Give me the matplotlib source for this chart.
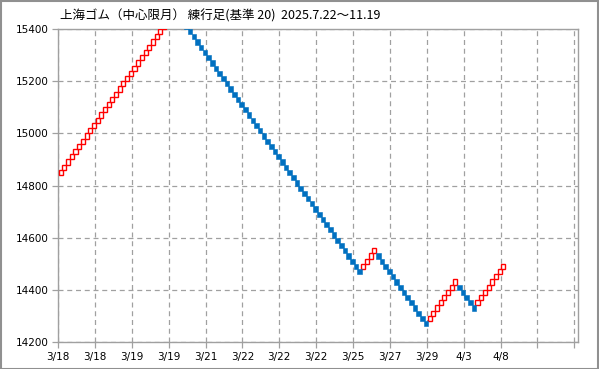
import matplotlib
matplotlib.use("Agg")
import matplotlib.pyplot as plt
from matplotlib.patches import Rectangle

# ---- data ----
title = "上海ゴム（中心限月） 練行足(基準 20)  2025.7.22〜11.19"
box_size = 20
# renko turning levels: start, then extreme brick edge of each run
pivots = [14840, 15480, 14460, 14560, 14260, 14440, 14320, 14500]
tick_labels = ["3/18", "3/18", "3/19", "3/19", "3/21", "3/22", "3/22",
               "3/22", "3/25", "3/27", "3/29", "4/3", "4/8", "", ""]
y_ticks = [14200, 14400, 14600, 14800, 15000, 15200, 15400]

# build bricks (bottom, direction) from pivots
bricks = []
for k in range(1, len(pivots)):
    target = pivots[k]
    if target > pivots[k - 1]:
        b = pivots[k - 1] if k == 1 else pivots[k - 1] + box_size
        while b + box_size <= target:
            bricks.append((b, 1))
            b += box_size
    else:
        t = pivots[k - 1] - box_size  # top of first down brick
        while t - box_size >= target:
            bricks.append((t - box_size, -1))
            t -= box_size

W, H = 599, 369
fig = plt.figure(figsize=(W / 100, H / 100), dpi=100)
ax = fig.add_axes([58 / W, 27 / H, (578 - 58) / W, (342 - 29) / H])

up_x = [i + 0.2 for i, (b, d) in enumerate(bricks) if d > 0]
up_b = [b for (b, d) in bricks if d > 0]
dn_x = [i + 0.2 for i, (b, d) in enumerate(bricks) if d < 0]
dn_b = [b for (b, d) in bricks if d < 0]

ax.bar(up_x, box_size, bottom=up_b, width=1.1, align="edge",
       facecolor="white", edgecolor="#ff0000", linewidth=1.0, zorder=3)
ax.bar(dn_x, box_size, bottom=dn_b, width=1.25, align="edge",
       facecolor="#0070c0", edgecolor="#0070c0", linewidth=0.4, zorder=3)

ax.set_xlim(0, 141)
ax.set_ylim(14200, 15400)
ax.set_xticks(range(0, 150, 10))
ax.set_xticklabels(tick_labels)
ax.set_yticks(y_ticks)
ax.set_yticklabels([str(v) for v in y_ticks])

ax.grid(True, color="#a0a0a0", linestyle=(0, (4, 3)), linewidth=0.9, zorder=0)
for s in ax.spines.values():
    s.set_color("#a0a0a0")
    s.set_linewidth(1.0)
ax.tick_params(axis="both", colors="#a0a0a0", labelcolor="#000000",
               labelsize=7.5, length=4, width=0.9)
ax.tick_params(axis="x", pad=3)
ax.tick_params(axis="y", pad=3)
for lbl in ax.get_xticklabels() + ax.get_yticklabels():
    lbl.set_family(["DejaVu Sans"])

fig.text(60 / W, 1 - 16 / H, title, ha="left", va="center", fontsize=9,
         family=["Noto Sans CJK JP", "DejaVu Sans"])

fig.patches.append(Rectangle((0.5 / W, 0.5 / H), (W - 1.5) / W, (H - 1.5) / H,
                             transform=fig.transFigure, fill=False,
                             edgecolor="#909090", linewidth=1.5))

fig.savefig("out.png", dpi=100)
